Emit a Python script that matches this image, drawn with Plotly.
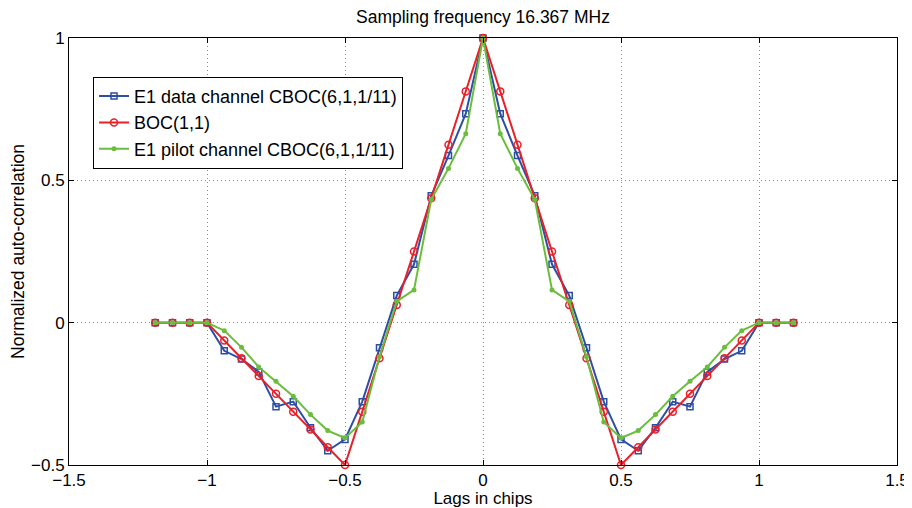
import plotly.graph_objects as go

# lag indices (16 samples per chip)
lag_index = list(range(-19, 19))
lags = [k / 16 for k in lag_index]

# one-sided values for k = 0..19 (symmetric)
blue_half = [1.0, 0.734, 0.587, 0.446, 0.205, 0.095, -0.088, -0.2775, -0.41, -0.45,
             -0.369, -0.2775, -0.295, -0.173, -0.128, -0.099, 0.0, 0.0, 0.0, 0.0]
red_half = [1.0, 0.8125, 0.625, 0.4375, 0.25, 0.0625, -0.125, -0.3125, -0.5, -0.4375,
            -0.375, -0.3125, -0.25, -0.1875, -0.125, -0.0625, 0.0, 0.0, 0.0, 0.0]
green_half = [1.0, 0.664, 0.542, 0.433, 0.115, 0.075, -0.12, -0.349, -0.405, -0.379,
              -0.323, -0.2586, -0.206, -0.1556, -0.0866, -0.028, 0.0, 0.0, 0.0, 0.0]

e1_data = [blue_half[abs(k)] for k in lag_index]
boc11 = [red_half[abs(k)] for k in lag_index]
e1_pilot = [green_half[abs(k)] for k in lag_index]

names = ["E1 data channel CBOC(6,1,1/11)", "BOC(1,1)", "E1 pilot channel CBOC(6,1,1/11)"]

fig = go.Figure()
fig.add_trace(go.Scatter(
    x=lags, y=e1_data, name=names[0], mode="lines+markers",
    line=dict(color="#2d4ea5", width=2),
    marker=dict(symbol="square-open", size=6, color="#2d4ea5", line=dict(width=1.5)),
    cliponaxis=False))
fig.add_trace(go.Scatter(
    x=lags, y=boc11, name=names[1], mode="lines+markers",
    line=dict(color="#e8202a", width=2),
    marker=dict(symbol="circle-open", size=7, color="#e8202a", line=dict(width=1.5)),
    cliponaxis=False))
fig.add_trace(go.Scatter(
    x=lags, y=e1_pilot, name=names[2], mode="lines+markers",
    line=dict(color="#6bbd3e", width=2),
    marker=dict(symbol="circle", size=5, color="#6bbd3e"),
    cliponaxis=False))

axis_common = dict(
    showgrid=True, gridcolor="#8c8c8c", griddash="1px,3px", gridwidth=1,
    zeroline=False, showline=True, linecolor="black", linewidth=1,
    mirror="ticks", ticks="inside", ticklen=5, tickcolor="black",
    tickfont=dict(size=17, color="black"), automargin=False,
)

fig.update_layout(
    width=904, height=500,
    margin=dict(l=61, r=15, t=30, b=43),
    paper_bgcolor="white", plot_bgcolor="white",
    font=dict(family="Liberation Sans, Arial, sans-serif", size=17, color="black"),
    title=dict(text="Sampling frequency 16.367 MHz", x=0.5254, xanchor="center",
               y=0.982, yanchor="middle", font=dict(size=17.5), automargin=False),
    xaxis=dict(range=[-1.5, 1.5], tickvals=[-1.5, -1, -0.5, 0, 0.5, 1, 1.5],
               title=dict(text="Lags in chips", standoff=1, font=dict(size=17)), **axis_common),
    yaxis=dict(range=[-0.5, 1], tickvals=[-0.5, 0, 0.5, 1],
               title=dict(text="Normalized auto-correlation", standoff=7, font=dict(size=17.5)), **axis_common),
    legend=dict(x=0.029, y=0.909, xanchor="left", yanchor="top",
                bgcolor="white", bordercolor="black", borderwidth=1,
                font=dict(size=18), tracegroupgap=0, itemwidth=30),
    showlegend=True,
)

fig.write_html("out.html")
